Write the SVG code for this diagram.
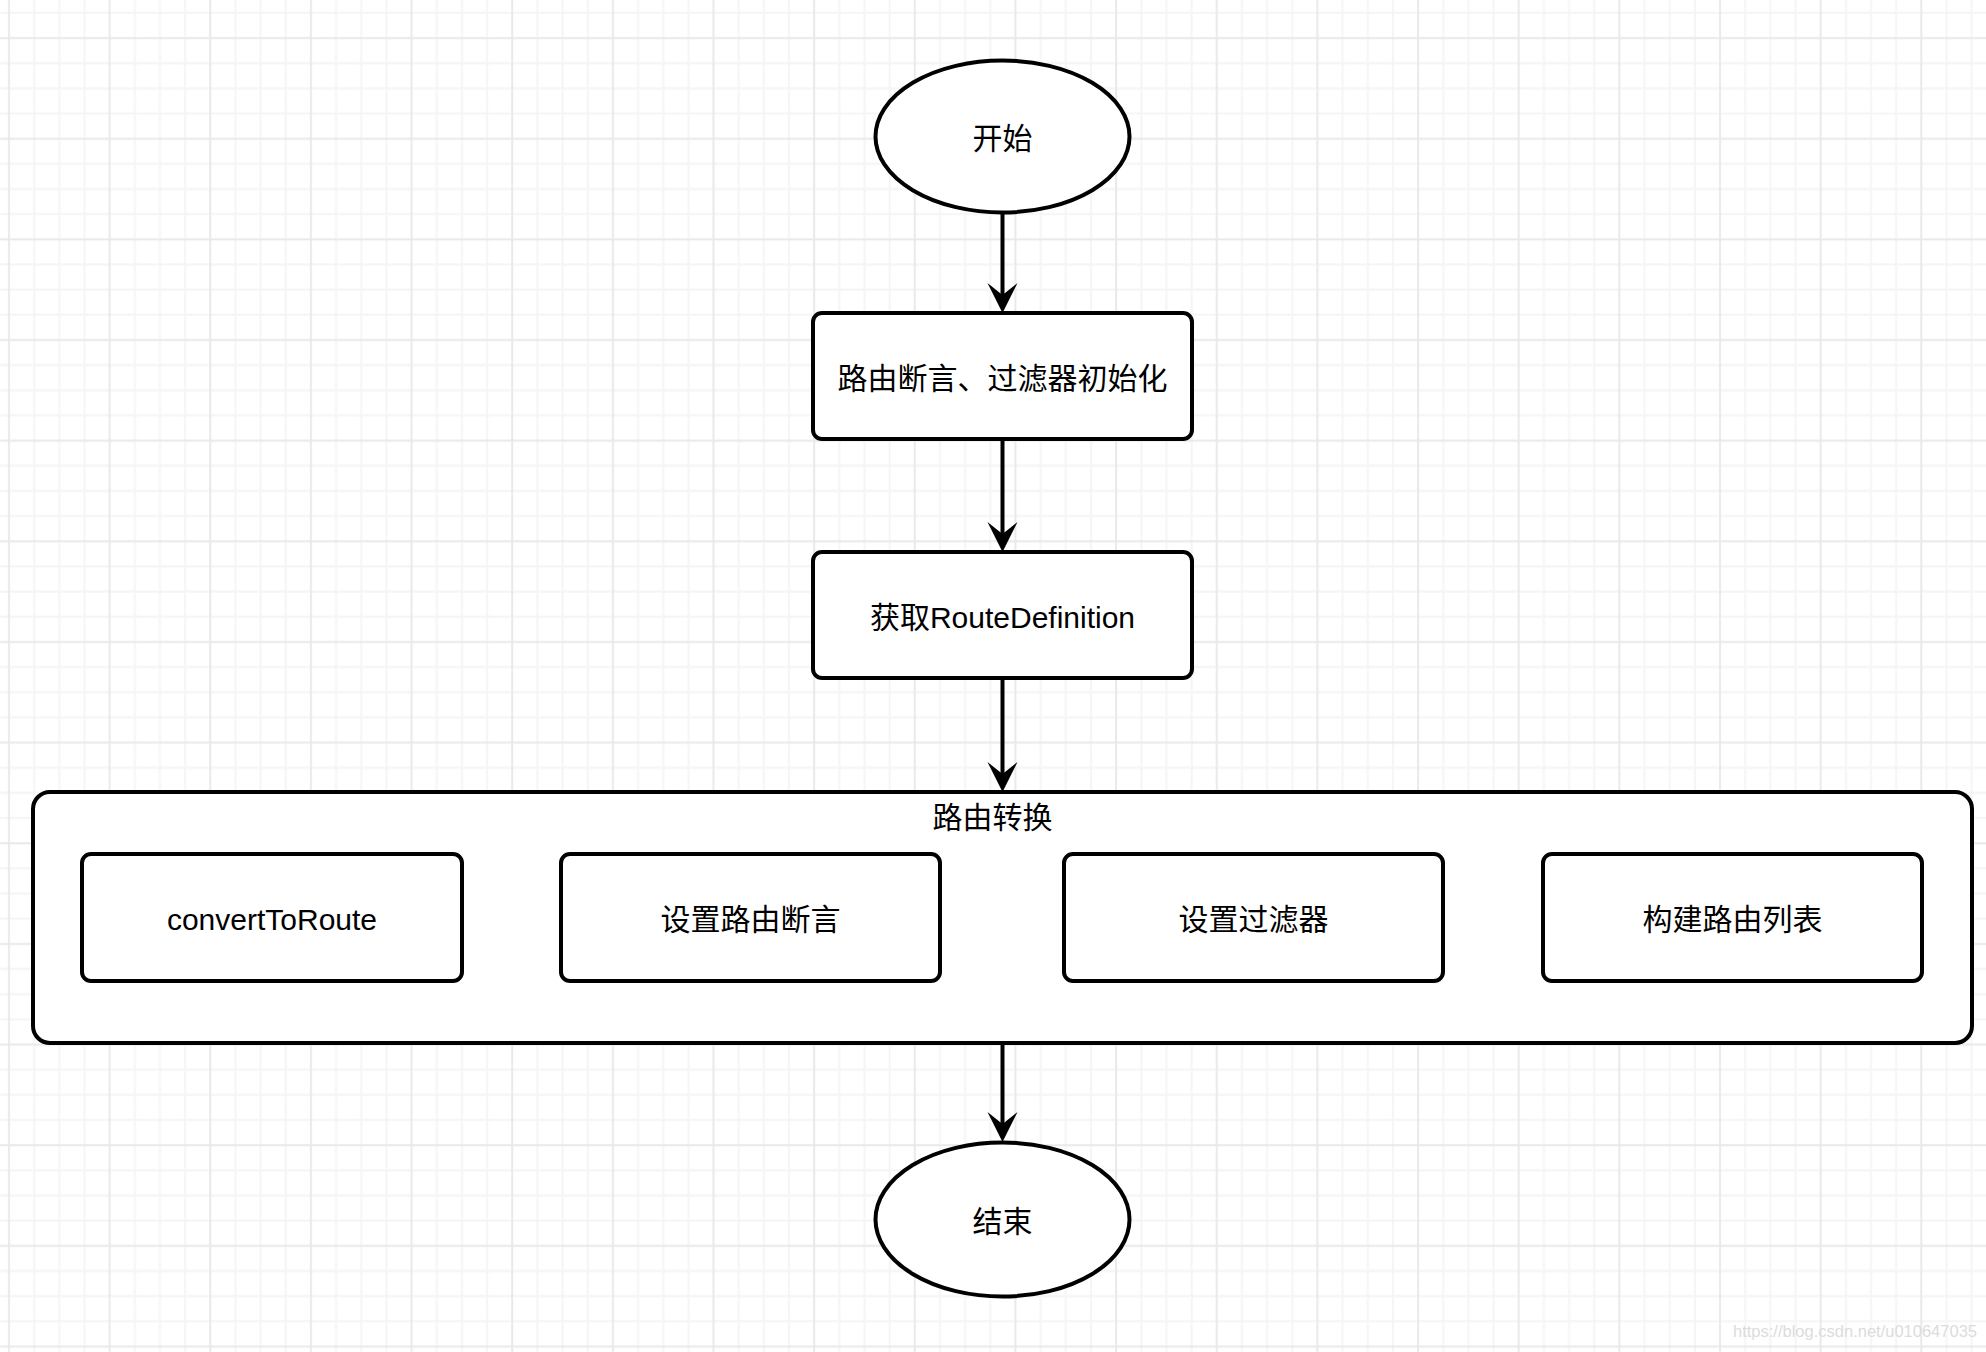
<svg xmlns="http://www.w3.org/2000/svg" width="1986" height="1352" viewBox="0 0 1986 1352">
<defs>
<pattern id="grid" patternUnits="userSpaceOnUse" x="-53.91" y="-24.91" width="100.65" height="100.65">
<path d="M12.58 0V100.65M37.74 0V100.65M88.07 0V100.65M0 12.58H100.65M0 37.74H100.65M0 88.07H100.65" stroke="#f5f5f5" stroke-width="2" fill="none"/>
<path d="M62.91 0V100.65M0 62.91H100.65" stroke="#e9e9e9" stroke-width="2" fill="none"/>
</pattern>
<marker id="arrow" markerUnits="userSpaceOnUse" viewBox="-35 -20 40 40" markerWidth="40" markerHeight="40" refX="-15" refY="0" orient="auto" overflow="visible">
<path d="M0 0L-30 -15L-18 0L-30 15Z" fill="#000"/>
</marker>
<style>
.shape{fill:#fff;stroke:#000;stroke-width:4}
.lbl{font-family:"Liberation Sans","Noto Sans CJK SC",sans-serif;font-size:30px;fill:#000;text-anchor:middle}
.conn{fill:none;stroke:#000;stroke-width:4}
</style>
</defs>
<rect width="1986" height="1352" fill="#fff"/>
<rect width="1986" height="1352" fill="url(#grid)"/>
<text x="1977" y="1337" font-family="Liberation Sans, sans-serif" font-size="16.5" fill="#dcdcdc" text-anchor="end">https://blog.csdn.net/u010647035</text>

<g id="connectors">
<path class="conn" d="M1002.5 213V298" marker-end="url(#arrow)"/>
<path class="conn" d="M1002.5 438V537" marker-end="url(#arrow)"/>
<path class="conn" d="M1002.5 678V777" marker-end="url(#arrow)"/>
<path class="conn" d="M1002.5 1043V1127" marker-end="url(#arrow)"/>
</g>

<g id="start">
<ellipse class="shape" cx="1002.5" cy="136.5" rx="127" ry="76"/>
<text class="lbl" x="1002.5" y="149">开始</text>
</g>

<g id="init">
<rect class="shape" x="813" y="313" width="379" height="126" rx="9"/>
<text class="lbl" x="1002.5" y="389">路由断言、过滤器初始化</text>
</g>

<g id="getdef">
<rect class="shape" x="813" y="552" width="379" height="126" rx="9"/>
<text class="lbl" x="1002.5" y="628">获取RouteDefinition</text>
</g>

<g id="convert-group">
<rect class="shape" x="33" y="792" width="1939" height="251" rx="17"/>
<text class="lbl" x="992.5" y="828">路由转换</text>
</g>

<g id="convertToRoute">
<rect class="shape" x="82" y="854" width="380" height="127" rx="9"/>
<text class="lbl" x="272" y="930">convertToRoute</text>
</g>

<g id="setPredicates">
<rect class="shape" x="561" y="854" width="379" height="127" rx="9"/>
<text class="lbl" x="750.5" y="930">设置路由断言</text>
</g>

<g id="setFilters">
<rect class="shape" x="1064" y="854" width="379" height="127" rx="9"/>
<text class="lbl" x="1253.5" y="930">设置过滤器</text>
</g>

<g id="buildList">
<rect class="shape" x="1543" y="854" width="379" height="127" rx="9"/>
<text class="lbl" x="1732.5" y="930">构建路由列表</text>
</g>

<g id="end">
<ellipse class="shape" cx="1002.5" cy="1219.5" rx="127" ry="77"/>
<text class="lbl" x="1002.5" y="1232">结束</text>
</g>
</svg>
